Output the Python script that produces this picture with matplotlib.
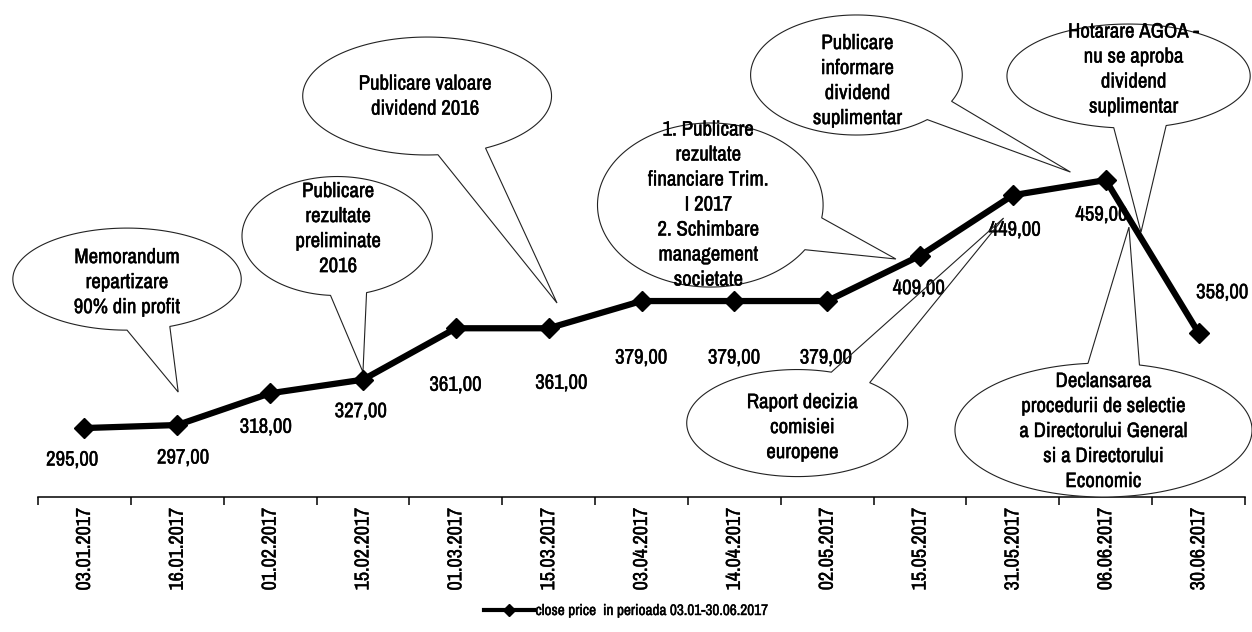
import matplotlib
matplotlib.use("Agg")
import matplotlib.pyplot as plt
import matplotlib.patheffects as pe
import numpy as np
from matplotlib import font_manager
from matplotlib.lines import Line2D
from matplotlib.patches import PathPatch
from matplotlib.path import Path

# Close price per trading date
dates = [
    "03.01.2017", "16.01.2017", "01.02.2017", "15.02.2017", "01.03.2017",
    "15.03.2017", "03.04.2017", "14.04.2017", "02.05.2017", "15.05.2017",
    "31.05.2017", "06.06.2017", "30.06.2017",
]
close_price = [295, 297, 318, 327, 361, 361, 379, 379, 379, 409, 449, 459, 358]
series_name = "close price  in perioada 03.01-30.06.2017"

# Value label offsets from each point, in pixels
label_offsets = [
    (-12, -32), (6, -33), (-4, -34), (-2, -32), (0, -57), (13, -55),
    (0, -57), (0, -57), (-1, -57), (-1, -33), (2, -35), (-4, -35), (24, 40),
]

# Event callouts
event_texts = [
    "Memorandum\nrepartizare\n90% din profit",
    "Publicare\nrezultate\npreliminate\n2016",
    "Publicare valoare\ndividend 2016",
    "1. Publicare\nrezultate\nfinanciare Trim.\nI 2017\n2. Schimbare\nmanagement\nsocietate",
    "Publicare\ninformare\ndividend\nsuplimentar",
    "Hotarare AGOA -\nnu se aproba\ndividend\nsuplimentar",
    "Raport decizia\ncomisiei\neuropene",
    "Declansarea\nprocedurii de selectie\na Directorului General\nsi a Directorului\nEconomic",
]
# (centre x, centre y, width, height, tail angles, tail tip, text position)
event_shapes = [
    (0.459, 393.5, 2.46, 67.5, (-90, -68), (1.01, 318.8), (0.459, 391.2)),
    (2.722, 422.0, 2.05, 78.7, (-94, -72), (3.00, 332.0), (2.733, 426.6)),
    (3.691, 514.6, 2.68, 78.0, (-85, -62), (5.09, 377.7), (3.670, 514.2)),
    (6.741, 442.5, 2.43, 108.5, (-33, -9), (8.74, 406.8), (6.720, 442.5)),
    (8.315, 528.5, 2.28, 79.4, (-48, -26), (10.62, 464.3), (8.326, 524.5)),
    (11.246, 527.8, 2.62, 68.8, (-97, -72), (11.38, 424.6), (11.300, 532.1)),
    (7.677, 298.3, 2.38, 70.8, (49, 72), (9.90, 433.9), (7.733, 295.3)),
    (10.976, 293.7, 3.20, 88.6, (76, 96), (11.25, 427.9), (10.976, 292.7)),
]

# Narrow sans face if there is one, otherwise a regular one set smaller
names = {f.name for f in font_manager.fontManager.ttflist}
scale = 1.0
for family in ("Liberation Sans Narrow", "Arial Narrow", "Archivo Narrow"):
    if family in names:
        break
else:
    family, scale = "Liberation Sans", 0.82
plt.rcParams["font.family"] = [family, "DejaVu Sans"]

# slightly heavier glyphs
bold_ink = [pe.withStroke(linewidth=0.3, foreground="black")]


def bubble_path(cx, cy, w, h, angles, tip, n=160):
    a0, a1 = angles
    t = np.radians(np.linspace(a1, a0 + 360, n))
    xs = cx + w / 2 * np.cos(t)
    ys = cy + h / 2 * np.sin(t)
    verts = list(zip(xs, ys)) + [tip, (xs[0], ys[0])]
    codes = [Path.MOVETO] + [Path.LINETO] * (len(verts) - 2) + [Path.CLOSEPOLY]
    return Path(verts, codes)


fig = plt.figure(figsize=(12.52, 6.32), dpi=100)
ax = fig.add_axes([38 / 1252, 135 / 632, 1207 / 1252, 497 / 632])

x = np.arange(len(dates))
ax.plot(x, close_price, color="black", lw=4.5, marker="D", ms=10,
        zorder=6, clip_on=False)

for xi, v, (dx, dy) in zip(x, close_price, label_offsets):
    ax.annotate(f"{v:.2f}".replace(".", ","), (xi, v), xytext=(dx, dy),
                textcoords="offset pixels", ha="center", va="center",
                fontsize=15 * scale, zorder=4, path_effects=bold_ink)

for text, (cx, cy, w, h, angles, tip, tpos) in zip(event_texts, event_shapes):
    path = bubble_path(cx, cy, w, h, angles, tip)
    # white body under the value labels, outline on top of them
    ax.add_patch(PathPatch(path, facecolor="white", edgecolor="none",
                           zorder=3, clip_on=False))
    ax.add_patch(PathPatch(path, facecolor="none", edgecolor="#222222",
                           lw=0.8, zorder=5, clip_on=False))
    ax.text(tpos[0], tpos[1], text, ha="center", va="center",
            fontsize=15 * scale, linespacing=1.4, zorder=5,
            clip_on=False, path_effects=bold_ink)

ax.set_xlim(-0.5, 12.5)
ax.set_ylim(249.4, 578.1)

for side in ("left", "right", "top"):
    ax.spines[side].set_visible(False)
ax.spines["bottom"].set_linewidth(1.1)
ax.set_yticks([])

ax.set_xticks(x)
ax.set_xticklabels(dates, rotation=90, fontsize=14.5 * scale)
for lbl in ax.get_xticklabels():
    lbl.set_path_effects(bold_ink)
ax.set_xticks(np.arange(-0.5, 13, 1), minor=True)
ax.tick_params(axis="x", which="major", length=0, pad=8)
ax.tick_params(axis="x", which="minor", length=6, width=1.1, direction="out")

handle = Line2D([0], [0], color="black", lw=3, marker="D", ms=6)
leg = fig.legend(handles=[handle], labels=[series_name], loc="center",
                 bbox_to_anchor=(626 / 1252, 1 - 611 / 632), frameon=False,
                 fontsize=11 * scale, handlelength=3.3, handletextpad=0.1)
for t in leg.get_texts():
    t.set_path_effects(bold_ink)

fig.savefig("out.png", dpi=100)
